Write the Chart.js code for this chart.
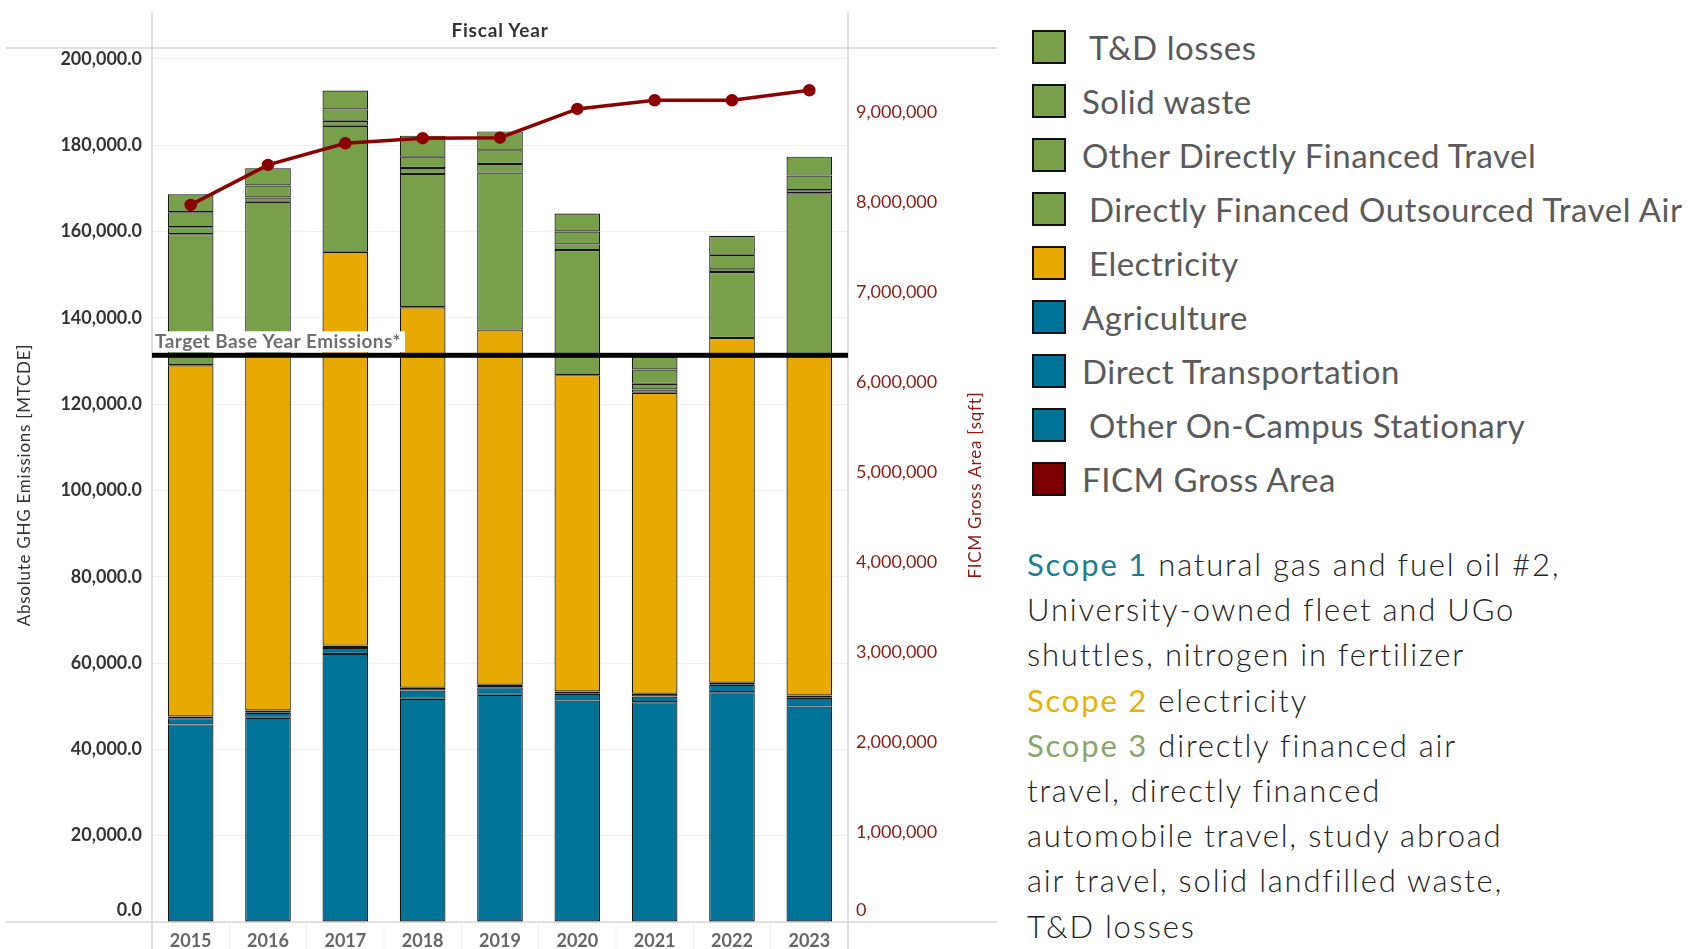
<!DOCTYPE html>
<html>
<head>
<meta charset="utf-8">
<script src="https://cdn.jsdelivr.net/npm/chart.js@4.4.1/dist/chart.umd.min.js"></script>
<style>
  body { margin: 0; width: 1696px; height: 949px; background: #fff; position: relative; overflow: hidden; font-family: Lato, "Open Sans", sans-serif; }
  #chart-box { position: absolute; left: 0; top: 0; width: 1000px; height: 949px; }
  #fiscal-title { position: absolute; left: 380px; width: 240px; top: 18px; text-align: center; font-weight: 700; font-size: 19px; letter-spacing: 0.8px; color: #333; }
  #legend { position: absolute; left: 1032px; top: 20px; }
  .item { height: 54px; display: flex; align-items: center; }
  .swatch { width: 34px; height: 34px; box-sizing: border-box; border: 2.5px solid #111; flex: none; }
  .item span { font-size: 33px; letter-spacing: 0.5px; color: #5a5a5a; margin-left: 16px; white-space: nowrap; }
  .item span.pad { margin-left: 23px; }
  #scopes { position: absolute; left: 1027px; top: 542px; font-size: 31px; letter-spacing: 1.8px; font-weight: 300; color: #222; line-height: 45.2px; white-space: nowrap; }
  .s1 { color: #1b7f8f; font-weight: 400; }
  .s2 { color: #e6b400; font-weight: 400; }
  .s3 { color: #8aa66b; font-weight: 400; }
</style>
</head>
<body>
<div id="chart-box"><canvas id="ghgChart"></canvas></div>
<div id="fiscal-title">Fiscal Year</div>

<div id="legend">
  <div class="item"><div class="swatch" style="background:#78a04b"></div><span class="pad">T&amp;D losses</span></div>
  <div class="item"><div class="swatch" style="background:#78a04b"></div><span>Solid waste</span></div>
  <div class="item"><div class="swatch" style="background:#78a04b"></div><span>Other Directly Financed Travel</span></div>
  <div class="item"><div class="swatch" style="background:#78a04b"></div><span class="pad">Directly Financed Outsourced Travel Air</span></div>
  <div class="item"><div class="swatch" style="background:#e8aa00"></div><span class="pad">Electricity</span></div>
  <div class="item"><div class="swatch" style="background:#007398"></div><span>Agriculture</span></div>
  <div class="item"><div class="swatch" style="background:#007398"></div><span>Direct Transportation</span></div>
  <div class="item"><div class="swatch" style="background:#007398"></div><span class="pad">Other On-Campus Stationary</span></div>
  <div class="item"><div class="swatch" style="background:#7d0000"></div><span>FICM Gross Area</span></div>
</div>

<div id="scopes">
  <div><span class="s1">Scope 1</span> natural gas and fuel oil #2,</div>
  <div>University-owned fleet and UGo</div>
  <div>shuttles, nitrogen in fertilizer</div>
  <div><span class="s2">Scope 2</span> electricity</div>
  <div><span class="s3">Scope 3</span> directly financed air</div>
  <div>travel, directly financed</div>
  <div>automobile travel, study abroad</div>
  <div>air travel, solid landfilled waste,</div>
  <div>T&amp;D losses</div>
</div>

<script>
const years = ["2015", "2016", "2017", "2018", "2019", "2020", "2021", "2022", "2023"];

// stacked from the bottom up (MTCDE)
const otherOnCampusStationary = [45780, 47330, 62120, 51720, 52640, 51330, 50930, 53250, 49940];
const directTransportation = [1450, 1150, 1390, 1920, 1760, 1550, 1320, 1710, 2010];
const agriculture = [400, 530, 530, 620, 560, 530, 630, 460, 530];
const electricity = [81380, 82990, 91260, 88160, 82300, 73290, 69730, 79900, 78820];
const outsourcedTravelAir = [30360, 34860, 29200, 30910, 36370, 28970, 780, 15260, 37550];
const otherFinancedTravel = [1620, 990, 1160, 1390, 2020, 1320, 1300, 630, 690];
const solidWaste = [3460, 2780, 2610, 2610, 3140, 3000, 3330, 3390, 3400];
const tdLosses = [4170, 4000, 4390, 4860, 4390, 4160, 2980, 4400, 4390];

// right axis (sqft)
const ficmGrossArea = [7967000, 8411000, 8652000, 8708000, 8714000, 9033000, 9130000, 9130000, 9241000];

const emissionTicks = [0, 20000, 40000, 60000, 80000, 100000, 120000, 140000, 160000, 180000, 200000];
const areaTicks = [0, 1000000, 2000000, 3000000, 4000000, 5000000, 6000000, 7000000, 8000000, 9000000];

const targetBase = 131300;

const GREEN = "#78a04b";
const ORANGE = "#e8aa00";
const BLUE = "#007398";
const RED = "#8b0000";
const AXIS_RED = "#8c1c13";

function barSet(label, data, color) {
  return {
    type: "bar",
    label,
    data,
    backgroundColor: color,
    borderColor: "#151515",
    borderWidth: 1.2,
    borderSkipped: false,
    barPercentage: 0.59,
    categoryPercentage: 1.0,
    yAxisID: "y",
    stack: "ghg",
    order: 1,
  };
}

const framePlugin = {
  id: "frame",
  beforeDatasetsDraw(chart) {
    const { ctx, chartArea: a, scales: { x } } = chart;
    ctx.save();
    ctx.strokeStyle = "#d6d6d6";
    ctx.lineWidth = 1.5;
    ctx.beginPath();
    ctx.moveTo(6, a.top);
    ctx.lineTo(997, a.top);
    ctx.moveTo(6, a.bottom);
    ctx.lineTo(997, a.bottom);
    ctx.moveTo(a.left, 12);
    ctx.lineTo(a.left, chart.height);
    ctx.moveTo(a.right, 12);
    ctx.lineTo(a.right, chart.height);
    ctx.stroke();

    ctx.strokeStyle = "#eeeeee";
    ctx.lineWidth = 1;
    const half = (x.getPixelForValue(1) - x.getPixelForValue(0)) / 2;
    ctx.beginPath();
    for (let i = 1; i < years.length; i += 1) {
      const px = x.getPixelForValue(i) - half;
      ctx.moveTo(px, a.bottom + 2);
      ctx.lineTo(px, chart.height);
    }
    ctx.stroke();
    ctx.restore();
  },
  afterDatasetsDraw(chart) {
    const { ctx, chartArea: a, scales: { y } } = chart;
    const py = y.getPixelForValue(targetBase);
    const label = "Target Base Year Emissions*";
    ctx.save();
    ctx.font = "700 19px Lato, sans-serif";
    ctx.letterSpacing = "0.4px";
    const w = ctx.measureText(label).width;
    ctx.fillStyle = "#fff";
    ctx.fillRect(a.left + 1, py - 24, w + 6, 21);
    ctx.fillStyle = "#6e6e6e";
    ctx.textBaseline = "middle";
    ctx.fillText(label, a.left + 3, py - 13);
    ctx.fillStyle = "#000";
    ctx.fillRect(a.left, py - 2.5, a.right - a.left, 5);
    ctx.restore();
  },
  afterDraw(chart) {
    const { ctx, chartArea: a, scales: { y, y2 } } = chart;
    const midY = (a.top + a.bottom) / 2;
    ctx.save();
    ctx.textAlign = "center";
    ctx.textBaseline = "middle";
    ctx.font = "17px Lato, sans-serif";
    ctx.letterSpacing = "0.75px";

    ctx.save();
    ctx.translate(25, midY);
    ctx.rotate(-Math.PI / 2);
    ctx.fillStyle = "#333";
    ctx.fillText("Absolute GHG Emissions [MTCDE]", 0, 0);
    ctx.restore();

    ctx.save();
    ctx.translate(976, midY);
    ctx.rotate(-Math.PI / 2);
    ctx.fillStyle = AXIS_RED;
    ctx.fillText("FICM Gross Area [sqft]", 0, 0);
    ctx.restore();

    // zero labels sit just above the baseline
    ctx.letterSpacing = "0px";
    ctx.font = "700 18px Lato, sans-serif";
    ctx.textAlign = "right";
    ctx.fillStyle = "#333";
    ctx.fillText((0).toFixed(1), a.left - 10, y.getPixelForValue(0) - 12);
    ctx.font = "18px Lato, sans-serif";
    ctx.textAlign = "left";
    ctx.fillStyle = AXIS_RED;
    ctx.fillText("0", a.right + 8, y2.getPixelForValue(0) - 12);
    ctx.restore();
  },
};

new Chart(document.getElementById("ghgChart"), {
  data: {
    labels: years,
    datasets: [
      {
        type: "line",
        label: "FICM Gross Area",
        data: ficmGrossArea,
        borderColor: RED,
        backgroundColor: RED,
        borderWidth: 3.5,
        pointRadius: 4.5,
        pointBackgroundColor: RED,
        pointBorderColor: RED,
        tension: 0,
        yAxisID: "y2",
        order: 0,
      },
      barSet("Other On-Campus Stationary", otherOnCampusStationary, BLUE),
      barSet("Direct Transportation", directTransportation, BLUE),
      barSet("Agriculture", agriculture, BLUE),
      barSet("Electricity", electricity, ORANGE),
      barSet("Directly Financed Outsourced Travel Air", outsourcedTravelAir, GREEN),
      barSet("Other Directly Financed Travel", otherFinancedTravel, GREEN),
      barSet("Solid waste", solidWaste, GREEN),
      barSet("T&D losses", tdLosses, GREEN),
    ],
  },
  options: {
    responsive: true,
    maintainAspectRatio: false,
    animation: false,
    layout: { padding: { top: 48, left: 0, right: 0, bottom: 0 } },
    plugins: {
      legend: { display: false },
      tooltip: { enabled: false },
    },
    scales: {
      x: {
        stacked: true,
        grid: { display: false, drawTicks: false },
        border: { display: false },
        ticks: {
          color: "#666",
          padding: 8,
          font: { family: "Lato, sans-serif", size: 18, weight: "bold" },
        },
        afterFit: (scale) => { scale.height = 27; },
      },
      y: {
        stacked: true,
        position: "left",
        min: 0,
        max: 202500,
        grid: { color: "#efefef", drawTicks: false },
        border: { display: false },
        ticks: {
          autoSkip: false,
          padding: 10,
          color: "#333",
          font: { family: "Lato, sans-serif", size: 18, weight: "bold" },
          callback: (v) => (v === 0 ? "" : v.toLocaleString("en-US", { minimumFractionDigits: 1, maximumFractionDigits: 1 })),
        },
        afterBuildTicks: (scale) => { scale.ticks = emissionTicks.map((value) => ({ value })); },
        afterFit: (scale) => { scale.width = 152; },
      },
      y2: {
        position: "right",
        min: 0,
        max: 9710000,
        grid: { display: false, drawTicks: false },
        border: { display: false },
        ticks: {
          autoSkip: false,
          padding: 8,
          color: AXIS_RED,
          font: { family: "Lato, sans-serif", size: 18 },
          callback: (v) => (v === 0 ? "" : v.toLocaleString("en-US")),
        },
        afterBuildTicks: (scale) => { scale.ticks = areaTicks.map((value) => ({ value })); },
        afterFit: (scale) => { scale.width = 152; },
      },
    },
  },
  plugins: [framePlugin],
});
</script>
</body>
</html>
